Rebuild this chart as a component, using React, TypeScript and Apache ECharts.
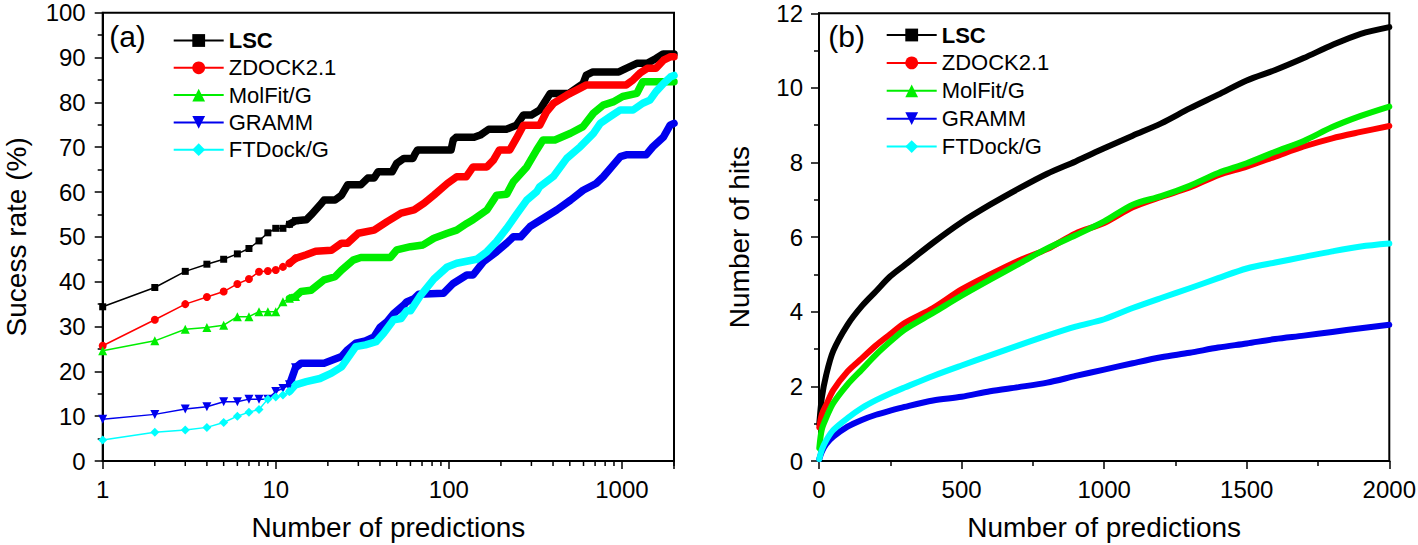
import React, { useEffect, useRef } from "react";
import * as echarts from "echarts";

const FONT = 'Arial, "Liberation Sans", Helvetica, sans-serif';

const NAMES = ["LSC", "ZDOCK2.1", "MolFit/G", "GRAMM", "FTDock/G"];
const COLORS = ["#000000", "#ff0000", "#00ee00", "#0000ee", "#00ffff"];
const SYMBOLS = ["rect", "circle", "triangle", "triangle", "diamond"];
const SYMBOL_ROT = [0, 0, 0, 180, 0];
const SYMBOL_SIZE = [7, 8, 9, 9, 9];

// Panel (a): success rate (%) vs number of predictions (log scale)
const A_LSC: [number, number][] = [
  [1, 34.4], [2, 38.7], [3, 42.3], [4, 43.9], [5, 45.0], [6, 46.2], [7, 47.4], [8, 49.1], [9, 50.9], [10, 51.9],
  [11, 51.9], [12, 52.8], [13, 53.6], [15, 53.8], [16, 54.9], [18, 57.1], [19, 58.2], [22, 58.2], [24, 59.3],
  [26, 61.6], [31, 61.6], [34, 63.1], [37, 63.1], [39, 64.5], [47, 64.5], [50, 66.4], [55, 67.5], [62, 67.5],
  [64, 68.6], [66, 69.4], [103, 69.4], [106, 71.6], [110, 72.2], [140, 72.2], [152, 72.7], [170, 74.0],
  [215, 74.0], [246, 74.9], [270, 77.2], [300, 77.2], [335, 78.3], [385, 82.0], [495, 82.0], [597, 84.2],
  [623, 86.1], [680, 86.8], [960, 86.8], [1058, 87.6], [1220, 88.7], [1400, 88.7], [1574, 89.8], [1730, 90.8],
  [2000, 90.8],
];
const A_ZDOCK: [number, number][] = [
  [1, 25.7], [2, 31.5], [3, 35.0], [4, 36.6], [5, 37.8], [6, 39.5], [7, 40.6], [8, 42.2], [9, 42.4], [10, 42.6],
  [11, 43.3], [12, 44.1], [13, 45.2], [15, 46.0], [17, 46.8], [21, 47.0], [24, 48.6], [26, 48.6], [30, 50.8],
  [37, 51.5], [44, 53.4], [53, 55.3], [63, 56.0], [72, 57.5], [82, 59.3], [98, 61.9], [111, 63.4], [126, 63.4],
  [138, 65.6], [166, 65.6], [181, 67.1], [196, 69.4], [225, 69.4], [246, 72.0], [270, 74.9], [335, 74.9],
  [367, 77.9], [403, 79.8], [480, 81.6], [550, 82.8], [625, 83.9], [1060, 83.9], [1160, 85.0], [1270, 86.5],
  [1400, 87.6], [1570, 87.6], [1740, 89.4], [1915, 90.2], [2000, 90.2],
];
const A_MOLFIT: [number, number][] = [
  [1, 24.6], [2, 26.8], [3, 29.4], [4, 29.8], [5, 30.3], [6, 32.2], [7, 32.2], [8, 33.3], [9, 33.3], [10, 33.3],
  [11, 35.5], [12, 36.3], [13, 36.7], [14, 37.8], [16, 38.1], [19, 40.4], [22, 41.1], [24, 42.6], [28, 44.8],
  [31, 45.4], [46, 45.4], [50, 47.1], [60, 47.8], [71, 48.2], [82, 49.7], [98, 50.8], [111, 51.5], [127, 53.0],
  [138, 53.8], [166, 56.0], [189, 59.3], [216, 59.5], [236, 62.3], [282, 65.6], [322, 69.4], [350, 71.6],
  [410, 71.6], [505, 73.1], [597, 74.6], [685, 77.6], [780, 79.4], [890, 80.1], [1010, 81.3], [1220, 82.0],
  [1320, 84.6], [2000, 84.6],
];
const A_GRAMM: [number, number][] = [
  [1, 9.3], [2, 10.4], [3, 11.6], [4, 12.1], [5, 13.2], [6, 13.2], [7, 13.8], [8, 13.8], [9, 13.8], [10, 15.5],
  [11, 16.2], [12, 17.0], [13, 20.8], [14, 21.8], [19, 21.8], [24, 23.3], [26, 24.8], [29, 26.3], [33, 26.8],
  [37, 27.7], [40, 29.8], [44, 31.1], [48, 32.9], [55, 34.8], [57, 35.5], [63, 36.2], [67, 37.2], [93, 37.4],
  [106, 39.6], [127, 41.5], [138, 41.5], [159, 44.5], [189, 46.7], [216, 48.6], [236, 50.0], [260, 50.0],
  [295, 52.3], [350, 54.1], [420, 56.0], [505, 58.2], [597, 60.4], [710, 61.9], [780, 63.4], [890, 66.0],
  [980, 67.9], [1060, 68.3], [1380, 68.3], [1510, 70.1], [1740, 72.3], [1900, 74.9], [2000, 75.3],
];
const A_FTDOCK: [number, number][] = [
  [1, 4.7], [2, 6.4], [3, 6.9], [4, 7.5], [5, 8.6], [6, 10.0], [7, 10.9], [8, 11.5], [9, 13.8], [10, 14.3],
  [11, 14.7], [12, 15.5], [13, 17.0], [15, 17.7], [18, 18.4], [21, 19.6], [24, 21.0], [29, 25.5], [33, 25.9],
  [38, 26.6], [42, 28.5], [48, 31.5], [53, 31.8], [57, 33.5], [60, 33.5], [68, 36.7], [82, 40.6], [98, 43.3],
  [111, 44.1], [145, 45.0], [166, 46.7], [189, 49.0], [216, 51.9], [246, 55.0], [282, 58.2], [322, 60.1],
  [335, 61.2], [403, 63.5], [480, 67.5], [575, 70.1], [685, 73.1], [750, 75.3], [855, 76.8], [980, 78.3],
  [1160, 78.3], [1320, 79.8], [1452, 80.5], [1574, 82.4], [1740, 84.2], [1915, 85.7], [2000, 86.0],
];

// Panel (b): number of hits vs number of predictions
const B_N = [1, 10, 25, 50, 100, 150, 200, 250, 300, 400, 500, 600, 700, 800, 900, 1000, 1100, 1200, 1300, 1400, 1500, 1600, 1700, 1800, 1900, 2000];
const B_LSC = [1.0, 1.7, 2.3, 2.95, 3.65, 4.15, 4.55, 4.95, 5.25, 5.85, 6.4, 6.87, 7.3, 7.7, 8.03, 8.38, 8.72, 9.05, 9.45, 9.82, 10.2, 10.48, 10.8, 11.15, 11.45, 11.63];
const B_ZDOCK = [0.9, 1.25, 1.5, 1.9, 2.4, 2.75, 3.1, 3.4, 3.7, 4.1, 4.6, 5.0, 5.37, 5.68, 6.1, 6.38, 6.8, 7.08, 7.33, 7.66, 7.89, 8.16, 8.43, 8.65, 8.82, 8.98];
const B_MOLFIT = [0.35, 0.85, 1.15, 1.55, 2.05, 2.45, 2.85, 3.2, 3.52, 3.97, 4.43, 4.86, 5.28, 5.7, 6.05, 6.42, 6.87, 7.1, 7.38, 7.72, 7.98, 8.29, 8.58, 8.95, 9.25, 9.5];
const B_GRAMM = [0.05, 0.25, 0.45, 0.65, 0.92, 1.1, 1.24, 1.35, 1.45, 1.62, 1.72, 1.87, 1.98, 2.1, 2.28, 2.45, 2.62, 2.78, 2.9, 3.04, 3.15, 3.27, 3.36, 3.46, 3.56, 3.65];
const B_FTDOCK = [0.05, 0.3, 0.55, 0.83, 1.15, 1.42, 1.63, 1.81, 1.97, 2.28, 2.56, 2.83, 3.1, 3.36, 3.6, 3.8, 4.1, 4.37, 4.63, 4.9, 5.16, 5.32, 5.47, 5.62, 5.75, 5.83];

const A_SERIES = [A_LSC, A_ZDOCK, A_MOLFIT, A_GRAMM, A_FTDOCK];
const B_SERIES = [B_LSC, B_ZDOCK, B_MOLFIT, B_GRAMM, B_FTDOCK];

// log-axis minor tick positions (2..9 per decade)
const MINOR_TICKS_A: number[] = [];
for (const d of [1, 10, 100, 1000]) {
  for (let k = 2; k <= 9; k++) {
    if (k * d <= 2000) MINOR_TICKS_A.push(k * d);
  }
}

const SPLIT_N = 12;

function isPow10(v: number) {
  const l = Math.log10(v);
  return Math.abs(l - Math.round(l)) < 1e-6;
}

export default function App() {
  const ref = useRef<HTMLDivElement>(null);
  useEffect(() => {
    if (!ref.current) return;
    const chart = echarts.init(ref.current, null, { renderer: "svg" });

    const axisLine = { show: true, onZero: false, lineStyle: { color: "#000", width: 2 } };
    const axisTick = { show: true, inside: false, length: 8, lineStyle: { color: "#000", width: 1.5 } };
    const minorTick = { show: true, splitNumber: 2, length: 5, lineStyle: { color: "#000", width: 1.5 } };
    const label = { color: "#000", fontSize: 24, fontFamily: FONT };
    const nameStyle = { color: "#000", fontSize: 28, fontFamily: FONT };
    const plain = (v: number) => String(Math.round(v * 1000) / 1000);

    const series: any[] = [];
    A_SERIES.forEach((arr, i) => {
      series.push({
        type: "line",
        name: NAMES[i],
        xAxisIndex: 0,
        yAxisIndex: 0,
        data: arr.filter((p) => p[0] <= SPLIT_N + 1),
        symbol: SYMBOLS[i],
        symbolRotate: SYMBOL_ROT[i],
        symbolSize: SYMBOL_SIZE[i],
        showSymbol: true,
        itemStyle: { color: COLORS[i] },
        lineStyle: { color: COLORS[i], width: 1.5 },
        emphasis: { disabled: true },
        silent: true,
      });
    });
    A_SERIES.forEach((arr, i) => {
      series.push({
        type: "line",
        name: NAMES[i],
        xAxisIndex: 0,
        yAxisIndex: 0,
        data: arr.filter((p) => p[0] >= SPLIT_N),
        symbol: "none",
        itemStyle: { color: COLORS[i] },
        lineStyle: { color: COLORS[i], width: 7.5, join: "round", cap: "round" },
        emphasis: { disabled: true },
        silent: true,
      });
    });
    B_SERIES.forEach((arr, i) => {
      series.push({
        type: "line",
        name: NAMES[i],
        xAxisIndex: 1,
        yAxisIndex: 1,
        data: B_N.map((n, j) => [n, arr[j]]),
        symbol: SYMBOLS[i],
        symbolRotate: SYMBOL_ROT[i],
        showSymbol: false,
        smooth: 0.3,
        itemStyle: { color: COLORS[i] },
        lineStyle: { color: COLORS[i], width: 6, join: "round", cap: "round" },
        emphasis: { disabled: true },
        silent: true,
      });
    });
    series.push({
      type: "custom",
      xAxisIndex: 0,
      yAxisIndex: 0,
      clip: false,
      silent: true,
      z: 5,
      data: MINOR_TICKS_A.map((v) => [v, 0]),
      renderItem: (_p: any, api: any) => {
        const pt = api.coord([api.value(0), 0]);
        return {
          type: "line",
          shape: { x1: pt[0], y1: pt[1], x2: pt[0], y2: pt[1] + 5 },
          style: { stroke: "#000", lineWidth: 1.5 },
        };
      },
    });

    const legendCommon = {
      orient: "vertical",
      padding: 0,
      itemWidth: 50,
      itemHeight: 16,
      selectedMode: false,
      data: NAMES,
      textStyle: {
        color: "#000",
        fontSize: 22,
        lineHeight: 22,
        fontFamily: FONT,
        rich: { b: { fontWeight: "bold", fontSize: 22, fontFamily: FONT, color: "#000" } },
      },
      formatter: (n: string) => (n === "LSC" ? "{b|LSC}" : n),
    };

    chart.setOption({
      animation: false,
      backgroundColor: "#fff",
      grid: [
        { left: 102.7, top: 12.7, width: 571.3, height: 448.3, show: true, borderColor: "#000", borderWidth: 2, containLabel: false, outerBoundsMode: "none" },
        { left: 819, top: 13.3, width: 570.3, height: 447.7, show: true, borderColor: "#000", borderWidth: 2, containLabel: false, outerBoundsMode: "none" },
      ],
      legend: [
        { ...legendCommon, left: 172.7, top: 29.5, itemGap: 5.3 },
        { ...legendCommon, left: 885.7, top: 24, itemGap: 5.9 },
      ],
      xAxis: [
        {
          type: "log",
          logBase: 10,
          gridIndex: 0,
          min: 1,
          max: 2000,
          axisLine,
          axisTick,
          splitLine: { show: false },
          axisLabel: { ...label, margin: 16, formatter: (v: number) => (isPow10(v) ? String(Math.round(v)) : "") },
          name: "Number of predictions",
          nameLocation: "middle",
          nameGap: 52,
          nameTextStyle: nameStyle,
        },
        {
          type: "value",
          gridIndex: 1,
          min: 0,
          max: 2000,
          interval: 500,
          axisLine,
          axisTick,
          minorTick,
          splitLine: { show: false },
          axisLabel: { ...label, margin: 16, formatter: plain },
          name: "Number of predictions",
          nameLocation: "middle",
          nameGap: 52,
          nameTextStyle: nameStyle,
        },
      ],
      yAxis: [
        {
          type: "value",
          gridIndex: 0,
          min: 0,
          max: 100,
          interval: 10,
          axisLine,
          axisTick,
          minorTick,
          splitLine: { show: false },
          axisLabel: { ...label, margin: 17, formatter: plain },
          name: "Sucess rate (%)",
          nameLocation: "middle",
          nameGap: 72,
          nameTextStyle: nameStyle,
        },
        {
          type: "value",
          gridIndex: 1,
          min: 0,
          max: 12,
          interval: 2,
          axisLine,
          axisTick,
          minorTick,
          splitLine: { show: false },
          axisLabel: { ...label, margin: 16, formatter: plain },
          name: "Number of hits",
          nameLocation: "middle",
          nameGap: 66,
          nameTextStyle: nameStyle,
        },
      ],
      graphic: [
        { type: "text", x: 127.5, y: 36.5, style: { text: "(a)", fontSize: 30, fontFamily: FONT, fill: "#000", textAlign: "center", textVerticalAlign: "middle" } },
        { type: "text", x: 846.7, y: 36.7, style: { text: "(b)", fontSize: 30, fontFamily: FONT, fill: "#000", textAlign: "center", textVerticalAlign: "middle" } },
      ],
      series,
    });

    return () => chart.dispose();
  }, []);

  return (
    <div
      ref={ref}
      style={{ position: "fixed", left: 0, top: 0, width: 1418, height: 545, background: "#fff" }}
    />
  );
}
